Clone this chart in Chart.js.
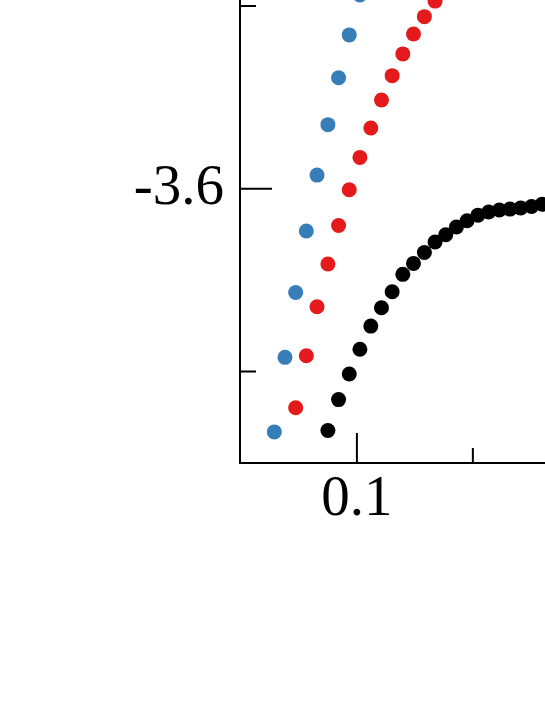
<!DOCTYPE html>
<html>
<head>
<meta charset="utf-8">
<script src="https://cdn.jsdelivr.net/npm/chart.js@4/dist/chart.umd.min.js"></script>
<style>
html,body{margin:0;padding:0;background:#fff;overflow:hidden;}
#wrap{width:545px;height:705px;position:relative;}
</style>
</head>
<body>
<div id="wrap"><canvas id="plotChart"></canvas></div>
<script>
// series

const xBlue=[0.0644,0.0690,0.0736,0.0782,0.0828,0.0875,0.0921,0.0967,0.1013];
const yBlue=[-3.7330,-3.6922,-3.6567,-3.6231,-3.5925,-3.5649,-3.5392,-3.5158,-3.4940];

const xRed=[0.0736,0.0782,0.0828,0.0875,0.0921,0.0967,0.1013,0.1060,0.1106,0.1152,0.1198,0.1244,0.1291,0.1337];
const yRed=[-3.7198,-3.6913,-3.6645,-3.6411,-3.6201,-3.6005,-3.5828,-3.5667,-3.5514,-3.5381,-3.5262,-3.5153,-3.5058,-3.4973];

const xBlack=[0.0875,0.0921,0.0967,0.1013,0.1060,0.1106,0.1152,0.1198,0.1244,0.1291,0.1337,0.1383,0.1429,0.1475,0.1522,0.1568,0.1614,0.1660,0.1706,0.1753,0.1799];
const yBlack=[-3.7322,-3.7153,-3.7013,-3.6878,-3.6751,-3.6651,-3.6563,-3.6468,-3.6408,-3.6348,-3.6291,-3.6251,-3.6209,-3.6175,-3.6144,-3.6127,-3.6116,-3.6111,-3.6105,-3.6097,-3.6084];

// ticks
const xMajor=[0.1];
const xMinor=[0.15];
const yMajor=[-3.6];
const yMinor=[-3.7,-3.5];

function pts(xs,ys){
return xs.map((x,i)=>({x:x,y:ys[i]}));
}

// inward tick marks
const innerTicks={
id:"innerTicks",
afterDraw(chart){
const c=chart.ctx;
const xs=chart.scales.x, ys=chart.scales.y;
const a=chart.chartArea;
c.save();
c.strokeStyle="#000";
c.lineWidth=2;
c.beginPath();
yMajor.forEach(v=>{const p=ys.getPixelForValue(v);c.moveTo(a.left,p);c.lineTo(a.left+32,p);});
yMinor.forEach(v=>{const p=ys.getPixelForValue(v);c.moveTo(a.left,p);c.lineTo(a.left+16,p);});
xMajor.forEach(v=>{const p=xs.getPixelForValue(v);c.moveTo(p,a.bottom);c.lineTo(p,a.bottom-30);});
xMinor.forEach(v=>{const p=xs.getPixelForValue(v);c.moveTo(p,a.bottom);c.lineTo(p,a.bottom-15);});
c.stroke();
c.restore();
}
};

const font={family:"'Liberation Serif','Times New Roman',serif",size:57};

new Chart(
document.getElementById("plotChart"),
{
type:"scatter",
data:{
datasets:[
{data:pts(xBlue,yBlue),backgroundColor:"#377eb8"},
{data:pts(xRed,yRed),backgroundColor:"#e41a1c"},
{data:pts(xBlack,yBlack),backgroundColor:"#000000"}
]
},
options:{
responsive:true,
maintainAspectRatio:false,
animation:false,
events:[],
layout:{padding:0,autoPadding:false},
elements:{point:{radius:7.5,borderWidth:0,hoverRadius:7.5}},
plugins:{legend:{display:false},tooltip:{enabled:false}},
scales:{
x:{
type:"linear",
min:0.0496,
max:0.1811,
afterFit(s){s.height=242;s.paddingLeft=0;s.paddingRight=0;},
afterBuildTicks(s){s.ticks=xMajor.map(v=>({value:v}));},
grid:{display:true,drawOnChartArea:false,drawTicks:false},
border:{display:true,color:"#000",width:2},
ticks:{color:"#000",font:font,padding:3,maxRotation:0,callback:v=>v.toFixed(1)}
},
y:{
type:"linear",
min:-3.75,
max:-3.4967,
afterFit(s){s.width=240;s.paddingTop=0;s.paddingBottom=0;},
afterBuildTicks(s){s.ticks=yMajor.map(v=>({value:v}));},
grid:{display:true,drawOnChartArea:false,drawTicks:false},
border:{display:true,color:"#000",width:2},
ticks:{color:"#000",font:font,padding:16,callback:v=>v.toFixed(1)}
}
}
},
plugins:[innerTicks]
}
);
</script>
</body>
</html>
